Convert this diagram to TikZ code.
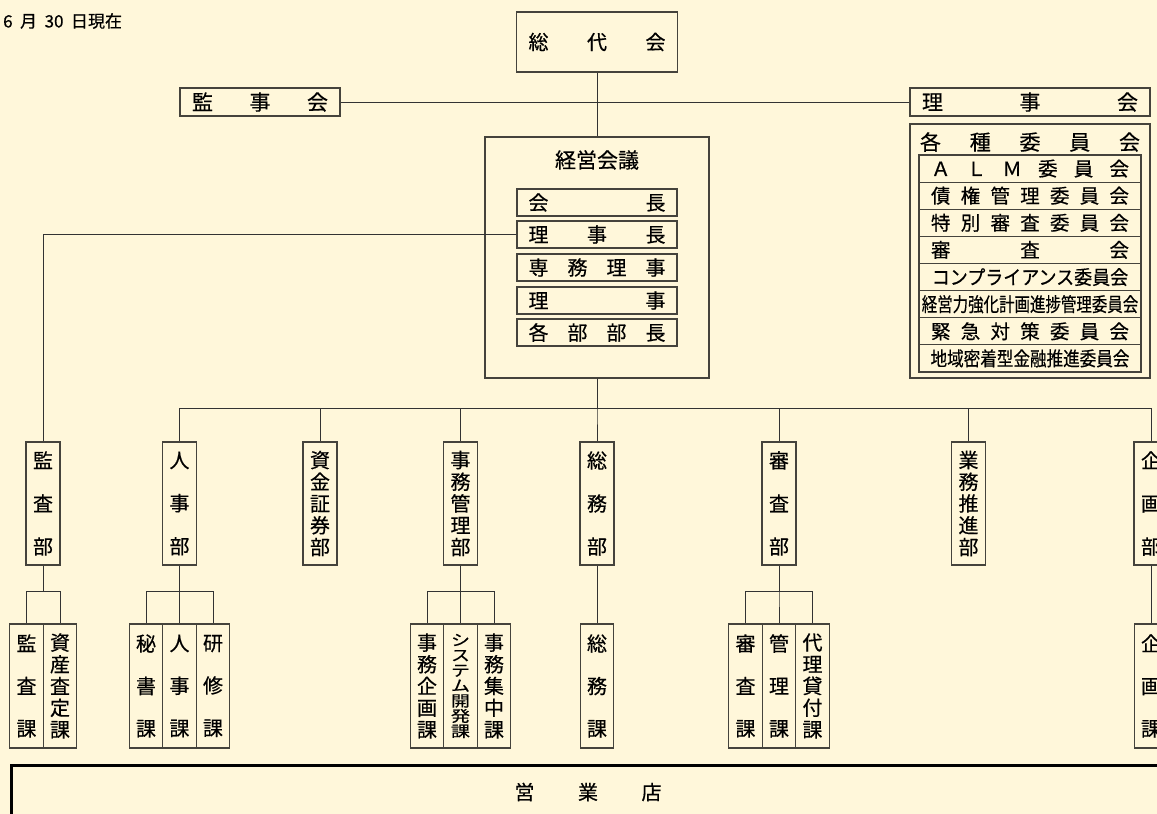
\documentclass[tikz,border=0pt]{standalone}
\usepackage{fontspec}
\setmainfont{Noto Sans CJK JP}[FakeBold=0.5]
\usepackage{graphicx}
\definecolor{bgc}{HTML}{FFF7DA}
\definecolor{bord}{HTML}{45433C}
\definecolor{lnc}{HTML}{333333}
\newcommand\fs[1]{\fontsize{#1}{#1}\selectfont}
\newcommand\spr[2]{\makebox[#1pt][s]{#2}}
\begin{document}
\begin{tikzpicture}[x=1pt,y=-1pt,
  bx/.style={draw=bord,line width=1.2pt,inner sep=0pt,align=center},
  hb/.style={bx,font=\fs{20}},
  krow/.style={hb,minimum width=160pt,minimum height=27pt},
  irow/.style={bx,font=\fs{19.5},minimum width=222pt,minimum height=27.125pt},
  dept3/.style={bx,minimum width=34pt,minimum height=123pt,font=\fontsize{20}{43}\selectfont},
  dept5/.style={bx,minimum width=34pt,minimum height=123pt,font=\fontsize{20}{21.75}\selectfont},
  sec3/.style={bx,minimum width=33.5pt,minimum height=124pt,font=\fontsize{20}{42.5}\selectfont},
  sec5/.style={bx,minimum width=33.5pt,minimum height=124pt,font=\fontsize{20}{21.75}\selectfont},
  ln/.style={draw=lnc,line width=1pt}
]
\useasboundingbox (0,0) rectangle (1157,814);
\fill[bgc] (0,0) rectangle (1157,814);
\clip (0,0) rectangle (1157,814);

\node[anchor=west,inner sep=0pt,font=\fs{17}] (date) at (3,21) {6\hspace{7.5pt}月\hspace{7.5pt}30\hspace{7.5pt}日現在};

% top
\node[bx,font=\fs{20},minimum width=161pt,minimum height=60pt] (sodai) at (597,42) {\spr{137}{総\hfill 代\hfill 会}};
\node[bx,font=\fs{21},minimum width=160pt,minimum height=28pt] (kanji) at (260,102) {\spr{136}{監\hfill 事\hfill 会}};
\node[bx,font=\fs{21},minimum width=240pt,minimum height=28pt] (rijikai) at (1030,102) {\spr{216}{理\hfill 事\hfill 会}};

% keiei kaigi
\node[bx,minimum width=224pt,minimum height=241pt] (keiei) at (597,257.5) {};
\node[font=\fs{21},inner sep=0pt] (keieit) at (597,160) {経営会議};
\node[krow] (r1) at (597,202.5) {\spr{137}{会\hfill 長}};
\node[krow] (r2) at (597,234.5) {\spr{137}{理\hfill 事\hfill 長}};
\node[krow] (r3) at (597,267.5) {\spr{137}{専\hfill 務\hfill 理\hfill 事}};
\node[krow] (r4) at (597,300.5) {\spr{137}{理\hfill 事}};
\node[krow] (r5) at (597,332.5) {\spr{137}{各\hfill 部\hfill 部\hfill 長}};

% committees
\node[bx,minimum width=240pt,minimum height=254pt] (iinkai) at (1030,251) {};
\node[font=\fs{21},inner sep=0pt] (iinkait) at (1030,142) {\spr{220}{各\hfill 種\hfill 委\hfill 員\hfill 会}};
\node[irow] (c1) at (1030,168.6) {\spr{198}{Ａ\hfill Ｌ\hfill Ｍ\hfill 委\hfill 員\hfill 会}};
\node[irow] (c2) at (1030,195.7) {\spr{198}{債\hfill 権\hfill 管\hfill 理\hfill 委\hfill 員\hfill 会}};
\node[irow] (c3) at (1030,222.8) {\spr{198}{特\hfill 別\hfill 審\hfill 査\hfill 委\hfill 員\hfill 会}};
\node[irow] (c4) at (1030,249.9) {\spr{198}{審\hfill 査\hfill 会}};
\node[irow] (c5) at (1030,277.1) {\scalebox{0.923}[1]{コンプライアンス委員会}};
\node[irow] (c6) at (1030,304.2) {\scalebox{0.793}[1]{経営力強化計画進捗管理委員会}};
\node[irow] (c7) at (1030,331.3) {\spr{198}{緊\hfill 急\hfill 対\hfill 策\hfill 委\hfill 員\hfill 会}};
\node[irow] (c8) at (1030,358.4) {\scalebox{0.85}[1]{地域密着型金融推進委員会}};

% departments
\node[dept3] (kansa) at (43,503.5) {監\\査\\部};
\node[dept3] (jinji) at (179.5,503.5) {人\\事\\部};
\node[dept5] (shikin) at (320,503.5) {資\\金\\証\\券\\部};
\node[dept5] (jimu) at (460.5,503.5) {事\\務\\管\\理\\部};
\node[dept3] (somu) at (597,503.5) {総\\務\\部};
\node[dept3] (shinsa) at (779,503.5) {審\\査\\部};
\node[dept5] (gyomu) at (968.5,503.5) {業\\務\\推\\進\\部};
\node[dept3] (kikaku) at (1151,503.5) {企\\画\\部};

% sections
\node[sec3] (kansaka) at (26.5,686) {監\\査\\課};
\node[sec5] (shisanka) at (60,686) {資\\産\\査\\定\\課};
\node[sec3] (hisho) at (146,686) {秘\\書\\課};
\node[sec3] (jinjika) at (179.5,686) {人\\事\\課};
\node[sec3] (kenshu) at (213,686) {研\\修\\課};
\node[sec5] (jkikaku) at (427,686) {事\\務\\企\\画\\課};
\node[bx,minimum width=33.5pt,minimum height=124pt] (system) at (460.5,686) {\scalebox{1}[0.8]{\parbox{20pt}{\centering\fs{19}シ\\ス\\テ\\ム\\開\\発\\課}}};
\node[sec5] (shuchu) at (494,686) {事\\務\\集\\中\\課};
\node[sec3] (somuka) at (597,686) {総\\務\\課};
\node[sec3] (shinsaka) at (745.5,686) {審\\査\\課};
\node[sec3] (kanrika) at (779,686) {管\\理\\課};
\node[sec5] (dairi) at (812.5,686) {代\\理\\貸\\付\\課};
\node[sec3] (kikakuka) at (1151,686) {企\\画\\課};

% branches
\node[draw=black,line width=2.5pt,inner sep=0pt,minimum width=1170pt,minimum height=80pt,anchor=north west] (eigyo) at (10,764) {};
\node[font=\fs{20},inner sep=0pt] (eigyot) at (588,792) {\spr{147}{営\hfill 業\hfill 店}};

% connectors
\draw[ln] (sodai) -- (keiei);
\draw[ln] (kanji) -- (rijikai);
\draw[ln] (r2.west) -| (kansa.north);
\foreach \d in {jinji,shikin,jimu,somu,shinsa,gyomu,kikaku}
  \draw[ln] (keiei.south) -- ++(0,30) -| (\d.north);
\foreach \s in {kansaka,shisanka}
  \draw[ln] (kansa.south) -- ++(0,26) -| (\s.north);
\foreach \s in {hisho,jinjika,kenshu}
  \draw[ln] (jinji.south) -- ++(0,26) -| (\s.north);
\foreach \s in {jkikaku,system,shuchu}
  \draw[ln] (jimu.south) -- ++(0,26) -| (\s.north);
\foreach \s in {shinsaka,kanrika,dairi}
  \draw[ln] (shinsa.south) -- ++(0,26) -| (\s.north);
\draw[ln] (somu) -- (somuka);
\draw[ln] (kikaku) -- (kikakuka);
\end{tikzpicture}
\end{document}
